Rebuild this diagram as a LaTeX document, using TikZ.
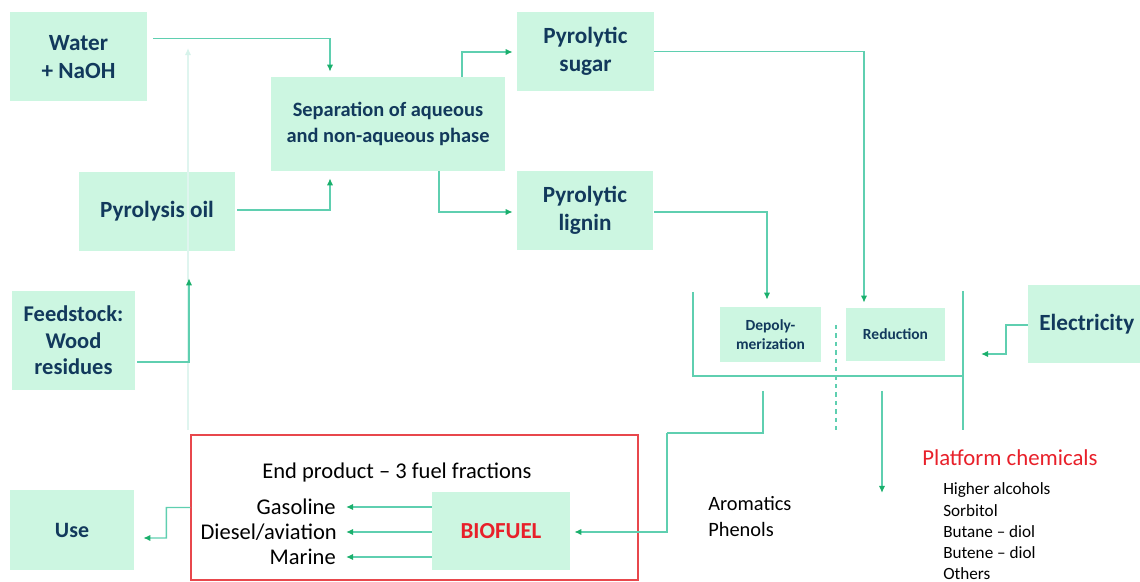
\documentclass[tikz,border=0pt]{standalone}
\usepackage{fontspec}
\setmainfont{Carlito}
\usepackage{tikz}
\usetikzlibrary{arrows.meta,positioning,calc}
\usepackage{xcolor}
\definecolor{Navy}{HTML}{12395C}
\definecolor{Mint}{HTML}{CCF6E1}
\definecolor{Line}{HTML}{5FCFB0}
\definecolor{Tip}{HTML}{1BAF6C}
\definecolor{Alert}{HTML}{E8202A}
\definecolor{Frame}{HTML}{E8474C}

\tikzset{
  box/.style={fill=Mint,draw=none,inner sep=0pt,align=center,text=Navy,font=\bfseries\fontsize{16.5}{20}\selectfont},
  smallbox/.style={box,font=\bfseries\fontsize{11}{14}\selectfont},
  flow/.style={draw=Line,line width=1pt,-{Latex[length=5pt,width=4.5pt,color=Tip]}},
  wire/.style={draw=Line,line width=1pt},
  label/.style={inner sep=0pt,text=black,font=\fontsize{16}{18}\selectfont},
  chem/.style={inner sep=0pt,anchor=west,text=black,font=\fontsize{12.2}{14}\selectfont}
}

\begin{document}
\begin{tikzpicture}[x=0.025cm,y=-0.025cm]
\useasboundingbox (0,0) rectangle (1140,582);
% boxes
\node[box,minimum width=137*0.025cm,minimum height=89*0.025cm] (water) at (78.5,57) {Water\\+ NaOH};
\node[box,minimum width=234*0.025cm,minimum height=94*0.025cm,font=\bfseries\fontsize{14.5}{19}\selectfont] (sep) at (388,124) {Separation of aqueous\\and non-aqueous phase};
\node[box,minimum width=137*0.025cm,minimum height=79*0.025cm] (sugar) at (585.5,51.5) {Pyrolytic\\sugar};
\node[box,minimum width=136*0.025cm,minimum height=79*0.025cm] (lignin) at (585,210.5) {Pyrolytic\\lignin};
\node[box,minimum width=156*0.025cm,minimum height=79*0.025cm] (oil) at (157,211.5) {Pyrolysis oil};
\node[box,minimum width=123*0.025cm,minimum height=99*0.025cm,font=\bfseries\fontsize{16}{18.8}\selectfont] (feed) at (73.5,340.5) {Feedstock:\\Wood\\residues};
\node[box,minimum width=124*0.025cm,minimum height=80*0.025cm,font=\bfseries\fontsize{15.6}{18}\selectfont] (use) at (72,530) {Use};
\node[draw=Frame,line width=1pt,minimum width=447*0.025cm,minimum height=145*0.025cm,inner sep=0pt] (frame) at (414.5,507.5) {};
\node[box,minimum width=138*0.025cm,minimum height=78*0.025cm,text=Alert,font=\bfseries\fontsize{16.3}{18}\selectfont] (biofuel) at (501,531) {BIOFUEL};
\node[smallbox,minimum width=101*0.025cm,minimum height=55*0.025cm] (depoly) at (770.5,334.5) {Depoly-\\merization};
\node[smallbox,minimum width=99*0.025cm,minimum height=53*0.025cm] (reduct) at (895.5,334.5) {Reduction};
\node[box,minimum width=112*0.025cm,minimum height=78*0.025cm] (elec) at (1084,324) {\hspace*{4pt}Electricity};
% texts
\node[label] (endp) at (397,473) {End product -- 3 fuel fractions};
\node[label,anchor=east] (gas) at (336,507) {Gasoline};
\node[label,anchor=east] (dies) at (337,532) {Diesel/aviation};
\node[label,anchor=east] (mar) at (336,557) {Marine};
\node[label,anchor=west,font=\fontsize{14.5}{16}\selectfont] (arom) at (708,504) {Aromatics};
\node[label,anchor=west,font=\fontsize{14.5}{16}\selectfont] (phen) at (708,529) {Phenols};
\node[label,anchor=west,text=Alert,font=\fontsize{16.2}{18}\selectfont] (plat) at (922,458) {Platform chemicals};
\foreach \t [count=\i] in {Higher alcohols,Sorbitol,Butane -- diol,Butene -- diol,Others}
  \node[chem] (chem\i) at (943,469+21*\i) {\t};
% connectors
\draw[flow] ($(water.north east)+(6,26)$) -| ($(sep.north)+(-58,-5)$);
\draw[flow,draw=Line!20,-{Latex[length=5pt,width=4.5pt,color=Line!25]}] (188,430) -- (188,48);
\draw[flow] ($(feed.east)+(2,21.5)$) -| ($(oil.south)+(32,27)$);
\draw[flow] ($(oil.east)+(2,-1.5)$) -| ($(sep.south)+(-58,7)$);
\draw[flow] ($(sep.north)+(74,0)$) |- ($(sugar.west)+(-4,0.5)$);
\draw[flow] ($(sep.south)+(51,0)$) |- ($(lignin.west)+(-4,1.5)$);
\draw[flow] (sugar.east) -| ($(reduct.north)+(-31.5,-5)$);
\draw[flow] ($(lignin.east)+(1,1.5)$) -| ($(depoly.north)+(-3.5,-7)$);
% reactor frame
\draw[wire] (693,292) -- (693,376) -- (964,376);
\draw[wire] (963,291) -- (963,430);
\draw[wire,dashed,line width=0.8pt] (836,325) -- (836,433);
\coordinate (ebend) at (1006,354);
\draw[flow] ($(elec.west)+(0,1)$) -| (ebend) -- (981,354);
\coordinate (dbend) at (667,433);
\draw[wire] (763,391) |- (dbend);
\draw[flow] (dbend) |- ($(biofuel.east)+(4,1)$);
\draw[flow] (882,391) -- (882,493);
\draw[flow] (biofuel.west |- gas) -- ($(gas.east)+(10,0)$);
\draw[flow] (biofuel.west |- dies) -- ($(dies.east)+(9,0)$);
\draw[flow] (biofuel.west |- mar) -- ($(mar.east)+(10,0)$);
\draw[flow] (frame.west) -| ++(-24,30.5) -- ($(use.east)+(9,8)$);
\end{tikzpicture}
\end{document}
